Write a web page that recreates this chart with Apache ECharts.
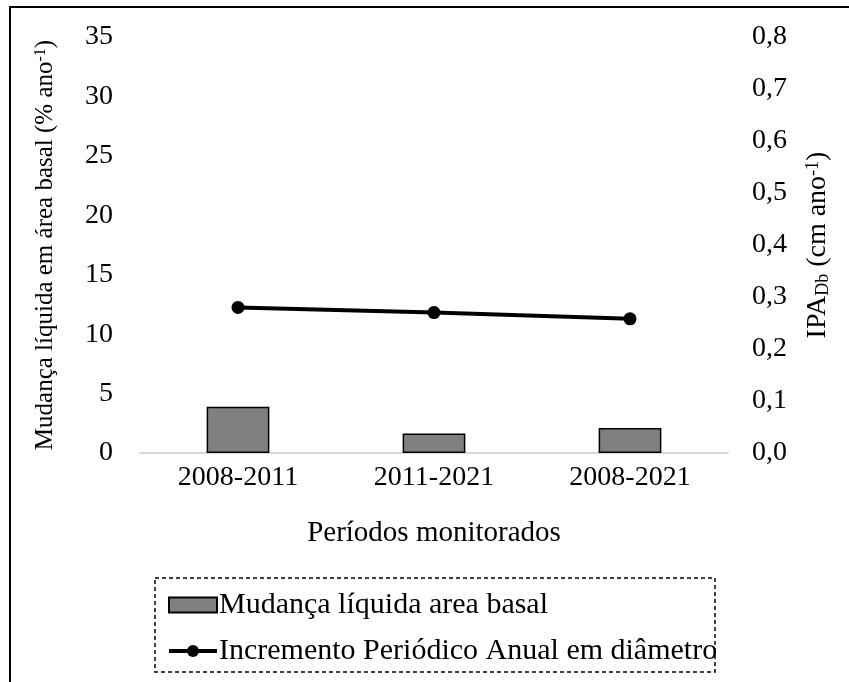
<!DOCTYPE html>
<html>
<head>
<meta charset="utf-8">
<script src="https://cdn.jsdelivr.net/npm/echarts@6/dist/echarts.min.js"></script>
<style>
    html, body { margin: 0; padding: 0; background: #fff; }
    #chart { width: 849px; height: 682px; }
</style>
</head>
<body>
<div id="chart"></div>
<script>
// categorias (períodos) e valores
var periodos = ['2008-2011', '2011-2021', '2008-2021'];
var mudancaAreaBasal = [3.9, 1.65, 2.1];
var incrementoDiametro = [0.28, 0.27, 0.258];
var ticksEsquerda = [0, 35, 5];
var ticksDireita = [0, 0.8, 0.1];

var fonte = 'Liberation Serif, Times New Roman, serif';
var chart = echarts.init(document.getElementById('chart'));

chart.setOption({
    backgroundColor: '#fff',
    animation: false,
    textStyle: { fontFamily: fonte, color: '#000' },
    grid: { left: 140, right: 121, top: 37, bottom: 229 },
    legend: {
        orient: 'vertical',
        left: 162,
        top: 585,
        itemWidth: 48,
        itemHeight: 15,
        itemGap: 16,
        textStyle: { fontFamily: fonte, fontSize: 30, color: '#000', padding: [0, 0, 0, -3] },
        data: [
            { name: 'Mudança líquida area basal', icon: 'rect' },
            { name: 'Incremento Periódico Anual em diâmetro', lineStyle: { width: 4, color: '#000' } }
        ]
    },
    xAxis: {
        type: 'category',
        data: periodos,
        name: 'Períodos monitorados',
        nameLocation: 'middle',
        nameGap: 66,
        nameTextStyle: { fontFamily: fonte, fontSize: 29, color: '#000' },
        axisLine: { lineStyle: { color: '#d9d9d9', width: 2 } },
        axisTick: { show: false },
        axisLabel: { fontFamily: fonte, fontSize: 28, color: '#000', margin: 11 }
    },
    yAxis: [
        {
            type: 'value',
            min: ticksEsquerda[0],
            max: ticksEsquerda[1],
            interval: ticksEsquerda[2],
            name: '{n|Mudança líquida em área basal (% ano}{s|-1}{n|)}',
            nameLocation: 'middle',
            nameGap: 82,
            nameTextStyle: {
                rich: {
                    n: { fontFamily: fonte, fontSize: 25, color: '#000' },
                    s: { fontFamily: fonte, fontSize: 16, color: '#000', verticalAlign: 'top' }
                }
            },
            splitLine: { show: false },
            axisLine: { show: false },
            axisTick: { show: false },
            axisLabel: { fontFamily: fonte, fontSize: 28, color: '#000', margin: 27 }
        },
        {
            type: 'value',
            min: ticksDireita[0],
            max: ticksDireita[1],
            interval: ticksDireita[2],
            position: 'right',
            name: '{n|IPA}{b|Db}{n| (cm ano}{s|-1}{n|)}',
            nameLocation: 'middle',
            nameGap: 76,
            nameRotate: 90,
            nameTextStyle: {
                rich: {
                    n: { fontFamily: fonte, fontSize: 28, color: '#000' },
                    s: { fontFamily: fonte, fontSize: 18, color: '#000', verticalAlign: 'top' },
                    b: { fontFamily: fonte, fontSize: 18, color: '#000', verticalAlign: 'bottom' }
                }
            },
            splitLine: { show: false },
            axisLine: { show: false },
            axisTick: { show: false },
            axisLabel: {
                fontFamily: fonte, fontSize: 28, color: '#000', margin: 24,
                formatter: function (v) { return v.toFixed(1).replace('.', ','); }
            }
        }
    ],
    series: [
        {
            name: 'Mudança líquida area basal',
            type: 'bar',
            yAxisIndex: 0,
            barWidth: '32%',
            data: mudancaAreaBasal,
            itemStyle: { color: '#808080', borderColor: '#000', borderWidth: 1.5 }
        },
        {
            name: 'Incremento Periódico Anual em diâmetro',
            type: 'line',
            yAxisIndex: 1,
            data: incrementoDiametro,
            symbol: 'circle',
            symbolSize: 13,
            lineStyle: { color: '#000', width: 4 },
            itemStyle: { color: '#000' }
        }
    ],
    graphic: [
        {
            type: 'rect',
            shape: { x: 10, y: 7, width: 860, height: 700 },
            style: { fill: 'none', stroke: '#000', lineWidth: 2 },
            silent: true
        },
        {
            type: 'rect',
            shape: { x: 155, y: 578, width: 560, height: 94 },
            style: { fill: 'none', stroke: '#000', lineWidth: 1.5, lineDash: [4, 3] },
            silent: true
        }
    ]
});
</script>
</body>
</html>
